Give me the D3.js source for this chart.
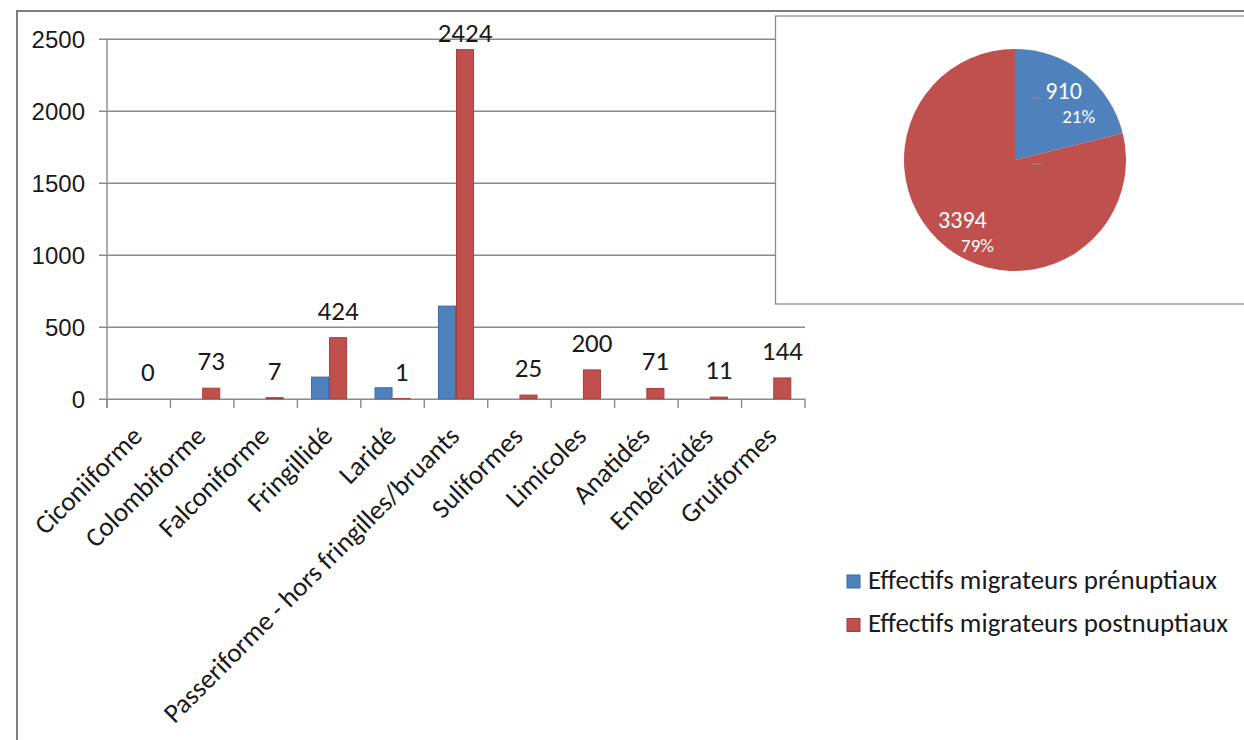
<!DOCTYPE html>
<html>
<head>
<meta charset="utf-8">
<script src="https://cdn.jsdelivr.net/npm/d3@7/dist/d3.min.js"></script>
<style>
  html, body { margin: 0; padding: 0; background: #fff; }
  svg { display: block; font-family: Carlito, Calibri, Lato, sans-serif; }
</style>
</head>
<body>
<svg id="chart" width="1244" height="740"></svg>
<script>
// Migratory bird counts per group, pre- and post-breeding
const categories = [
  "Ciconiiforme", "Colombiforme", "Falconiforme", "Fringillidé", "Laridé",
  "Passeriforme - hors fringilles/bruants", "Suliformes", "Limicoles",
  "Anatidés", "Embérizidés", "Gruiformes"
];
const seriesNames = [
  "Effectifs migrateurs prénuptiaux",
  "Effectifs migrateurs postnuptiaux"
];
const prenuptial  = [0, 0, 0, 150, 76, 643, 0, 0, 0, 0, 0];
const postnuptial = [0, 73, 7, 424, 1, 2424, 25, 200, 71, 11, 144];
const yTicks = [0, 500, 1000, 1500, 2000, 2500];

// Totals shown in the inset pie
const pieLabels = ["910", "3394"];
const pieValues = [910, 3394];

const colors = ["#4f81bd", "#c0504d"];
const strokes = ["#3d6ba3", "#a33f3c"];
const gridColor = "#8a8a8a";
const textColor = "#1a1a1a";

const svg = d3.select("#chart");

// Outer chart frame (runs off the right and bottom edges)
svg.append("rect")
  .attr("x", 17).attr("y", 11)
  .attr("width", 1300).attr("height", 800)
  .attr("fill", "#fff")
  .attr("stroke", "#7f7f7f").attr("stroke-width", 2);

// Scales
const plotLeft = 107, plotRight = 805, plotTop = 38.7, plotBottom = 398.7;
const x = d3.scaleBand().domain(categories).range([plotLeft, plotRight]).padding(0);
const xs = d3.scaleBand().domain(seriesNames).range([0, x.bandwidth()])
  .paddingInner(0).paddingOuter(0.76);
const y = d3.scaleLinear().domain([0, 2500]).range([plotBottom, plotTop]);

// Horizontal gridlines with outward tick stubs
const yAxis = d3.axisLeft(y).tickValues(yTicks).tickSize(plotRight - plotLeft + 8).tickFormat(d => d);
const gy = svg.append("g")
  .attr("transform", `translate(${plotRight},0)`)
  .call(yAxis);
gy.select(".domain").remove();
gy.selectAll(".tick line").attr("stroke", gridColor).attr("stroke-width", 1.4);
gy.selectAll(".tick text")
  .attr("x", -(plotRight - 85))
  .attr("dy", "0.35em")
  .attr("text-anchor", "end")
  .attr("fill", textColor)
  .style("font-size", "24px");

// Vertical axis line
svg.append("line")
  .attr("x1", plotLeft).attr("x2", plotLeft)
  .attr("y1", plotTop).attr("y2", plotBottom + 9.3)
  .attr("stroke", gridColor).attr("stroke-width", 1.4);

// Category tick marks at band boundaries
const boundaries = categories.map(c => x(c)).concat([x(categories[categories.length - 1]) + x.bandwidth()]);
svg.append("g").selectAll("line").data(boundaries).join("line")
  .attr("x1", d => d).attr("x2", d => d)
  .attr("y1", plotBottom).attr("y2", plotBottom + 9.3)
  .attr("stroke", gridColor).attr("stroke-width", 1.4);

// Bars
const rows = categories.map((c, i) => ({ cat: c, vals: [prenuptial[i], postnuptial[i]] }));
const groups = svg.append("g").selectAll("g").data(rows).join("g")
  .attr("transform", d => `translate(${x(d.cat)},0)`);
groups.selectAll("rect")
  .data(d => d.vals.map((v, k) => ({ v, k })).filter(e => e.v > 0))
  .join("rect")
  .attr("x", e => xs(seriesNames[e.k]) + 0.5)
  .attr("width", xs.bandwidth() - 1)
  .attr("y", e => y(e.v))
  .attr("height", e => Math.max(0, plotBottom - y(e.v)))
  .attr("fill", e => colors[e.k])
  .attr("stroke", e => strokes[e.k])
  .attr("stroke-width", 1);

// Value labels over the post-breeding bars
groups.append("text")
  .attr("x", xs(seriesNames[1]) + xs.bandwidth() / 2)
  .attr("y", d => Math.max(y(d.vals[1]) - 18, 42))
  .attr("text-anchor", "middle")
  .attr("fill", textColor)
  .style("font-size", "27px")
  .text(d => d.vals[1]);

// Slanted category labels
svg.append("g").selectAll("text").data(categories).join("text")
  .attr("transform", c => `translate(${x(c) + x.bandwidth() / 2 + 5},${plotBottom + 39}) rotate(-45)`)
  .attr("text-anchor", "end")
  .attr("fill", textColor)
  .style("font-size", "27px")
  .text(c => c);

// Legend
const legend = svg.append("g").selectAll("g").data(seriesNames).join("g")
  .attr("transform", (d, i) => `translate(847,${575 + i * 43.5})`);
legend.append("rect")
  .attr("width", 13).attr("height", 13)
  .attr("fill", (d, i) => colors[i])
  .attr("stroke", (d, i) => strokes[i]).attr("stroke-width", 1);
legend.append("text")
  .attr("x", 21).attr("y", 13.5)
  .attr("fill", textColor)
  .style("font-size", "27px")
  .text(d => d);

// Inset pie panel
svg.append("rect")
  .attr("x", 775.5).attr("y", 16)
  .attr("width", 600).attr("height", 288)
  .attr("fill", "#fff")
  .attr("stroke", "#8c8c8c").attr("stroke-width", 1.3);

const cx = 1015, cy = 160, r = 111;
const total = d3.sum(pieValues);
const pie = d3.pie().sort(null).value(d => d)(pieValues);
const arc = d3.arc().innerRadius(0).outerRadius(r);
const labelArc = d3.arc().innerRadius(82).outerRadius(82);
const gp = svg.append("g").attr("transform", `translate(${cx},${cy})`);
gp.selectAll("path").data(pie).join("path")
  .attr("d", arc)
  .attr("fill", (d, i) => colors[i]);

const pl = gp.selectAll("g.lab").data(pie).join("g").attr("class", "lab")
  .attr("transform", d => { const c = labelArc.centroid(d); return `translate(${c[0] - 2},${c[1] - 5})`; });
pl.append("text")
  .attr("text-anchor", "middle").attr("dy", "0.35em")
  .attr("fill", "#fff")
  .style("font-size", "24px")
  .text((d, i) => pieLabels[i]);
pl.append("text")
  .attr("x", 15).attr("y", 26)
  .attr("text-anchor", "middle").attr("dy", "0.35em")
  .attr("fill", "#fff")
  .style("font-size", "19px")
  .text(d => Math.round(d.value / total * 100) + "%");

// Short leader stubs
gp.append("line").attr("x1", 17).attr("x2", 27).attr("y1", -62).attr("y2", -62)
  .attr("stroke", "#8a8a8a").attr("stroke-width", 1.2);
gp.append("line").attr("x1", 17).attr("x2", 27).attr("y1", 4).attr("y2", 4)
  .attr("stroke", "#8a8a8a").attr("stroke-width", 1.2);
</script>
</body>
</html>
